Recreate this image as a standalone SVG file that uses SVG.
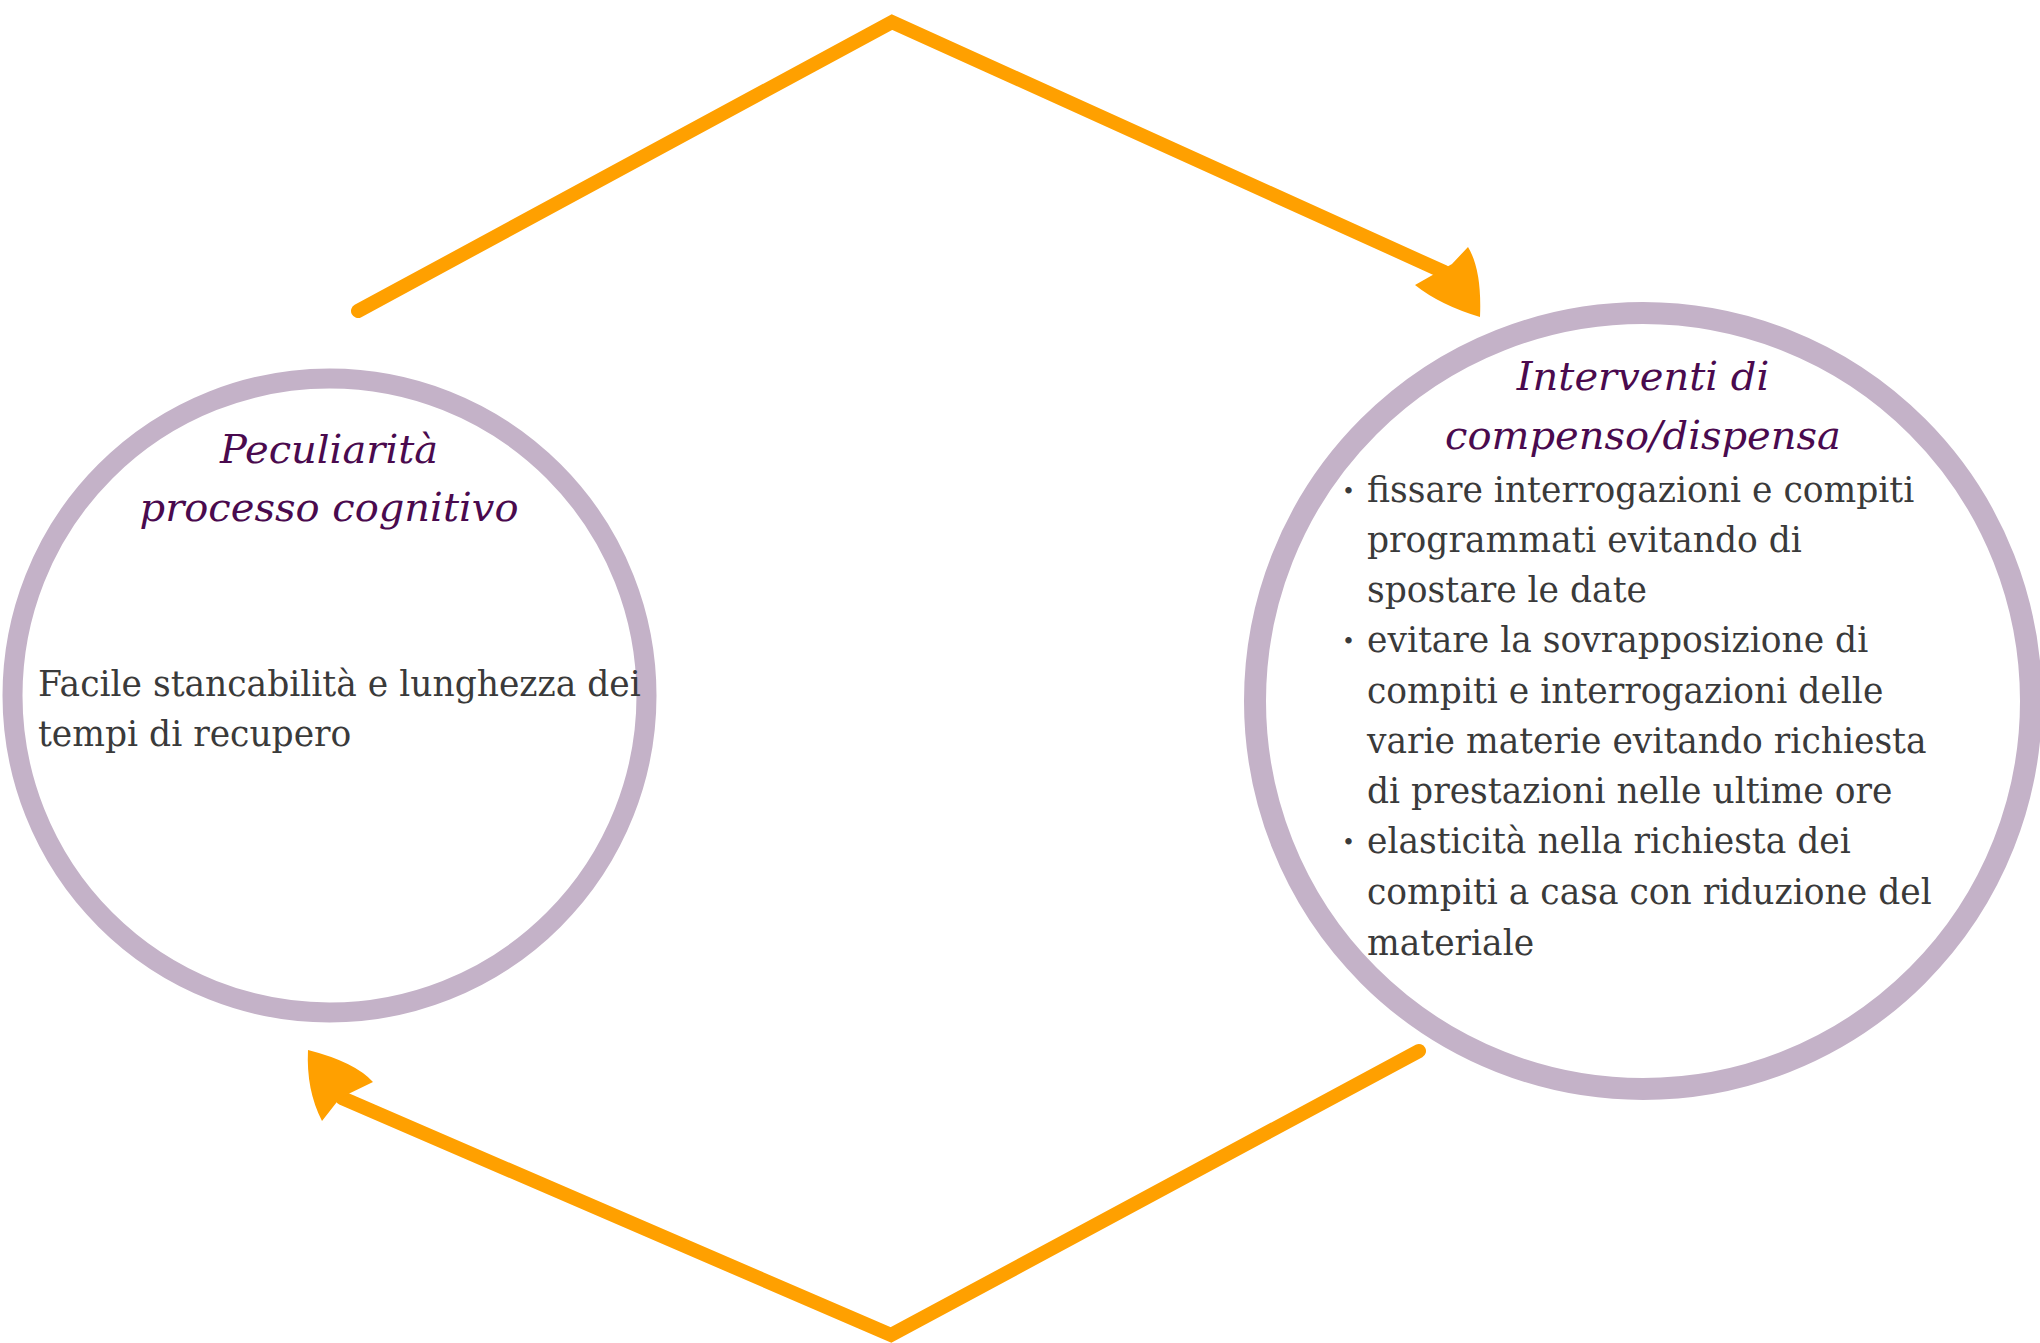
<svg xmlns="http://www.w3.org/2000/svg" width="2040" height="1343" viewBox="0 0 2040 1343">
<style>
.ring{fill:#ffffff;stroke:#C4B2C8}
.title{font-family:"DejaVu Serif","Liberation Serif",serif;font-style:italic;font-size:40px;fill:#4A0A4E;text-anchor:middle}
.body{font-family:"DejaVu Serif","Liberation Serif",serif;font-size:34.5px;fill:#3A3A3A}
.bullet{font-size:22px}
.conn{fill:none;stroke:#FFA000;stroke-width:14;stroke-linejoin:miter;stroke-linecap:round}
.head{fill:#FFA000}
</style>
<rect width="2040" height="1343" fill="#ffffff"/>
<g id="connectors">
  <polyline class="conn" points="358,311 892,22 1444,272"/>
  <path class="head" d="M1468,247 Q1482,270 1480,317 Q1440,305 1415,285 L1452,264 Z"/>
  <polyline class="conn" points="1419,1051 891,1335 342,1098"/>
  <path class="head" d="M308,1050 Q355,1062 373,1082 L340,1098 L322,1121 Q306,1090 308,1050 Z"/>
</g>
<g id="node-peculiarita">
  <circle class="ring" cx="329.5" cy="695.5" r="317" stroke-width="20"/>
  <text class="title" x="329" y="463">Peculiarità</text>
  <text class="title" x="329" y="521">processo cognitivo</text>
  <text class="body" x="38" y="696">Facile stancabilità e lunghezza dei</text>
  <text class="body" x="38" y="746">tempi di recupero</text>
</g>
<g id="node-interventi">
  <circle class="ring" cx="1643" cy="701" r="388" stroke-width="22"/>
  <text class="title" x="1643" y="390">Interventi di</text>
  <text class="title" x="1643" y="449">compenso/dispensa</text>
  <g class="body">
    <text class="bullet" x="1342" y="499">•</text>
    <text x="1367" y="502">fissare interrogazioni e compiti</text>
    <text x="1367" y="552">programmati evitando di</text>
    <text x="1367" y="602">spostare le date</text>
    <text class="bullet" x="1342" y="649">•</text>
    <text x="1367" y="652">evitare la sovrapposizione di</text>
    <text x="1367" y="703">compiti e interrogazioni delle</text>
    <text x="1367" y="753">varie materie evitando richiesta</text>
    <text x="1367" y="803">di prestazioni nelle ultime ore</text>
    <text class="bullet" x="1342" y="850">•</text>
    <text x="1367" y="853">elasticità nella richiesta dei</text>
    <text x="1367" y="904">compiti a casa con riduzione del</text>
    <text x="1367" y="955">materiale</text>
  </g>
</g>
</svg>
